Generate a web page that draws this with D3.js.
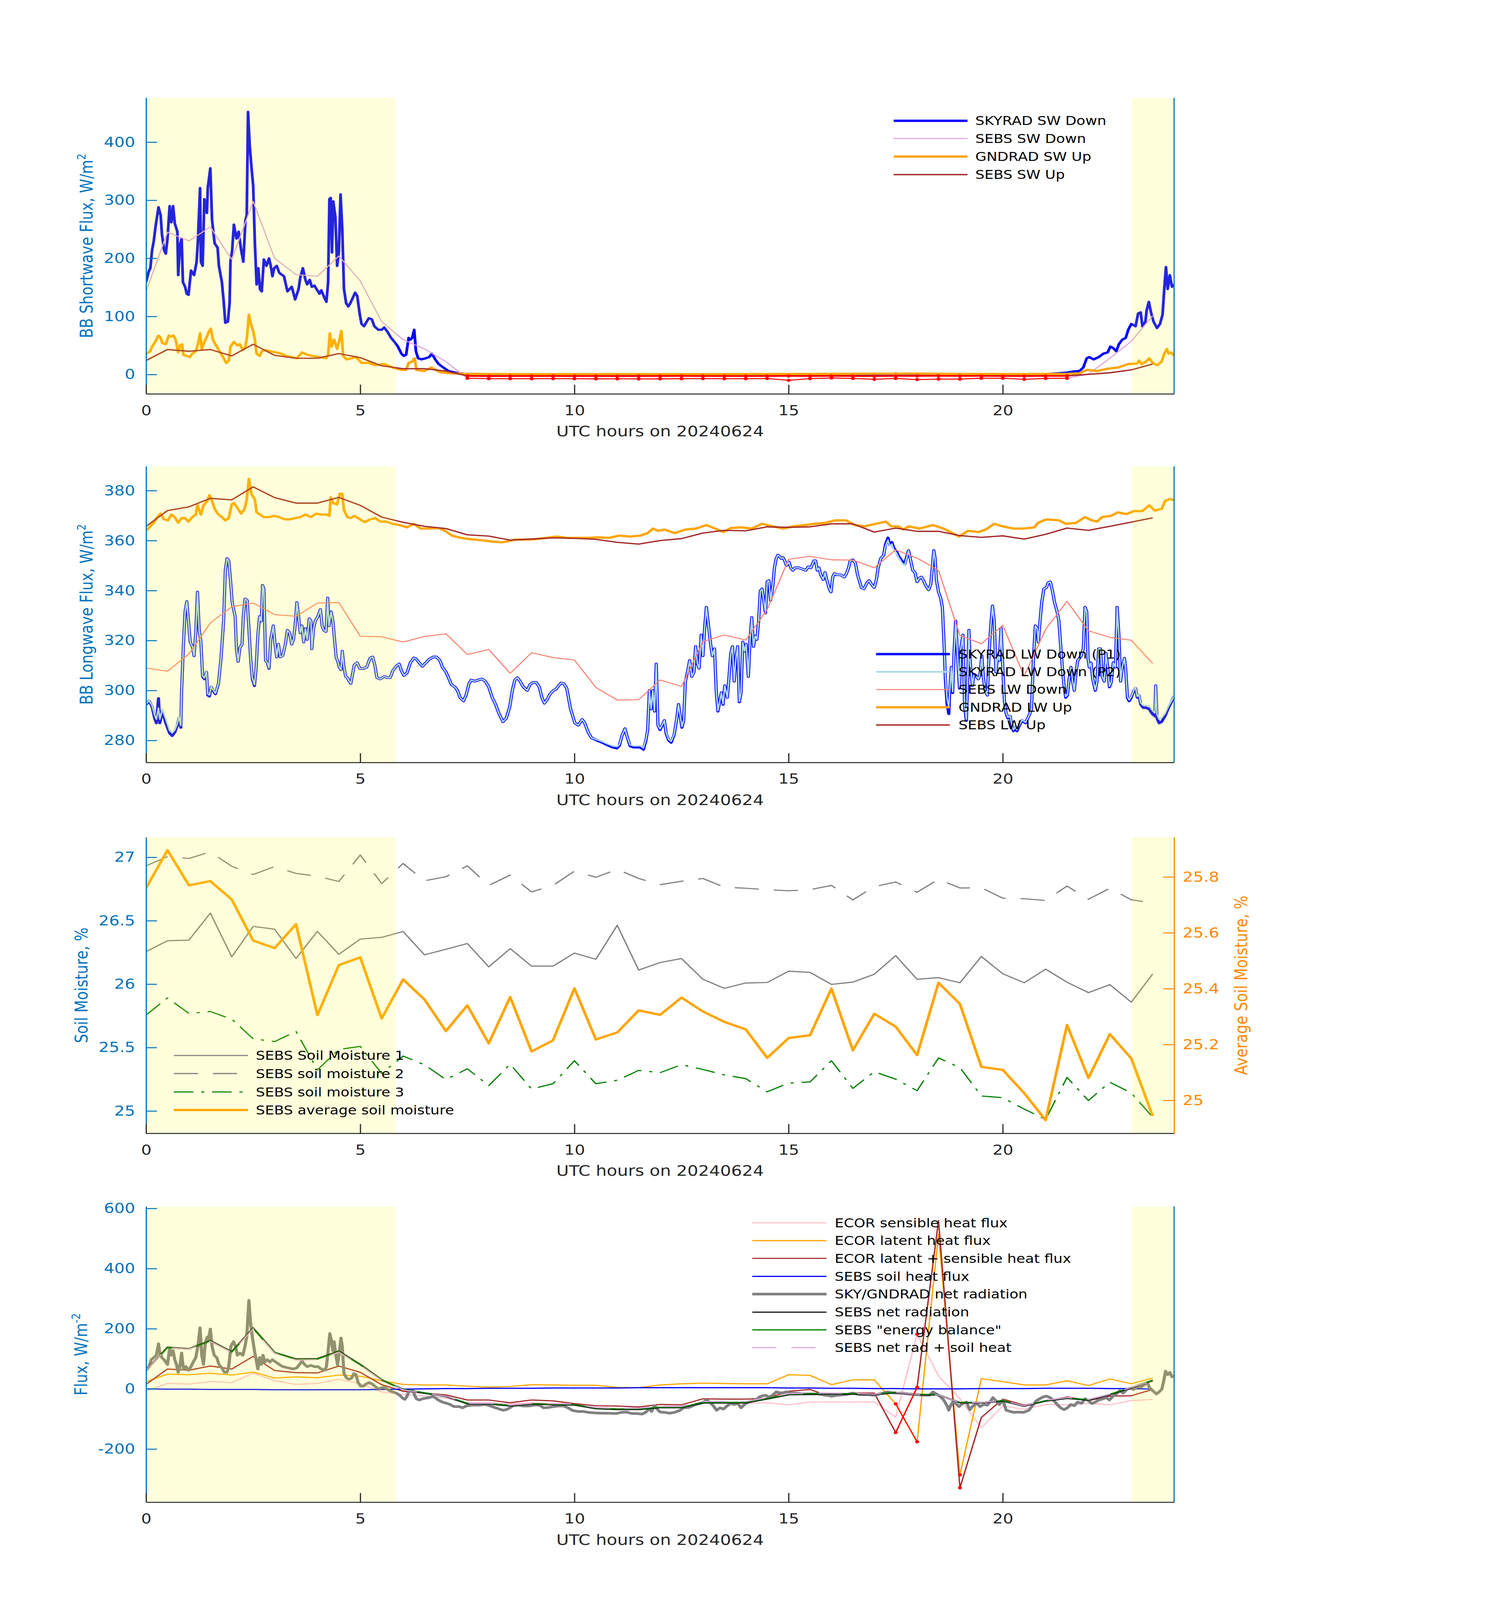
<!DOCTYPE html>
<html>
<head>
<meta charset="utf-8">
<script src="https://cdn.jsdelivr.net/npm/d3@7"></script>
<style>
  html, body { margin: 0; padding: 0; background: #fff; overflow: hidden; }
  svg { display: block; }
</style>
</head>
<body>
<svg id="chart"></svg>
<script>
// ---- data ----
const sebsHours = [0,0.5,1,1.5,2,2.5,3,3.5,4,4.5,5,5.5,6,6.5,7,7.5,8,8.5,9,9.5,10,10.5,11,11.5,
  12,12.5,13,13.5,14,14.5,15,15.5,16,16.5,17,17.5,18,18.5,19,19.5,20,20.5,21,21.5,22,22.5,23,23.5];
const xTicks = [0, 5, 10, 15, 20];
const dayShade = [[0, 5.83], [23.02, 24]];

// panel 1 - shortwave
const skyradSwDown = [[0,159],[0.06,177],[0.1,183],[0.14,214],[0.18,230],[0.22,254],[0.29,288],[0.34,274],[0.37,242],[0.42,214],[0.46,208],[0.5,234],[0.55,290],[0.59,262],[0.63,290],[0.67,260],[0.73,246],[0.75,171],[0.79,222],[0.83,234],[0.86,159],[0.91,151],[0.95,139],[0.99,137],[1.05,179],[1.12,171],[1.18,194],[1.21,230],[1.26,321],[1.28,194],[1.32,187],[1.36,302],[1.42,278],[1.44,321],[1.5,355],[1.54,266],[1.6,226],[1.67,218],[1.7,187],[1.77,159],[1.81,127],[1.85,89],[1.91,91],[1.95,123],[1.97,194],[2.01,214],[2.05,258],[2.11,234],[2.16,246],[2.22,214],[2.27,194],[2.32,266],[2.35,274],[2.38,452],[2.42,393],[2.46,357],[2.5,325],[2.54,226],[2.58,155],[2.62,183],[2.66,147],[2.7,143],[2.75,198],[2.81,187],[2.87,200],[2.91,187],[2.95,169],[2.99,183],[3.05,187],[3.11,175],[3.22,169],[3.3,143],[3.4,151],[3.48,129],[3.56,147],[3.6,167],[3.66,183],[3.72,163],[3.76,155],[3.82,163],[3.87,151],[3.93,153],[3.98,147],[4.05,139],[4.09,145],[4.17,131],[4.21,125],[4.25,159],[4.28,302],[4.31,304],[4.34,210],[4.37,298],[4.42,270],[4.46,187],[4.5,210],[4.54,310],[4.58,250],[4.62,147],[4.67,123],[4.72,117],[4.77,123],[4.82,131],[4.88,141],[4.93,135],[4.99,103],[5.03,87],[5.09,83],[5.15,91],[5.2,97],[5.27,95],[5.33,83],[5.42,77],[5.5,77],[5.56,81],[5.64,73],[5.72,63],[5.8,56],[5.88,48],[5.96,36],[6.02,32],[6.07,34],[6.13,63],[6.17,60],[6.21,63],[6.26,77],[6.3,40],[6.35,28],[6.43,26],[6.53,28],[6.61,30],[6.67,36],[6.75,26],[6.83,18],[6.94,12],[7.06,6],[7.23,3],[7.43,1],[8,0.4],[10,0.3],[12,0.4],[14,0.5],[16,0.3],[17.4,0.3],[17.5,1.8],[17.6,0.3],[19,0.4],[21,0.6],[21.47,3],[21.63,5],[21.79,6],[21.88,12],[21.96,28],[22.02,30],[22.12,26],[22.24,30],[22.35,36],[22.45,38],[22.51,48],[22.57,46],[22.65,40],[22.71,52],[22.79,60],[22.87,63],[22.93,77],[23.0,87],[23.1,83],[23.16,105],[23.22,107],[23.26,83],[23.33,91],[23.36,111],[23.41,125],[23.46,107],[23.52,91],[23.6,80],[23.67,87],[23.73,103],[23.77,147],[23.81,185],[23.85,147],[23.9,171],[23.95,151],[24,155]];
const sebsSwDown = [143,245,230,254,198,298,200,172,169,204,161,91,60,44,22,-6.5,-7.1,-7.3,-7.2,-7.1,-7.3,-7.5,-7.4,-7.6,
  -7.5,-7.2,-7.1,-7.2,-7.2,-6.9,-10,-7.1,-6.0,-6.8,-8.3,-6.8,-8.7,-7.9,-7.9,-6.4,-6.4,-8.3,-6.8,-6.4,0.5,28,57,101];
const gndradSwUp = [[0,36],[0.1,40],[0.14,48],[0.18,52],[0.24,60],[0.29,67],[0.34,63],[0.38,54],[0.46,52],[0.53,67],[0.59,65],[0.64,67],[0.69,60],[0.75,38],[0.79,50],[0.84,52],[0.87,34],[0.95,32],[1.02,30],[1.08,36],[1.16,40],[1.21,52],[1.26,71],[1.3,44],[1.36,56],[1.43,67],[1.46,73],[1.51,79],[1.56,60],[1.65,48],[1.73,38],[1.81,28],[1.87,20],[1.93,24],[1.97,48],[2.05,56],[2.13,50],[2.19,52],[2.26,42],[2.32,48],[2.36,67],[2.4,103],[2.46,83],[2.5,75],[2.54,60],[2.58,36],[2.65,32],[2.7,40],[2.79,42],[2.91,40],[3.03,38],[3.15,36],[3.27,32],[3.4,30],[3.52,28],[3.64,38],[3.76,34],[3.89,32],[4.05,30],[4.2,28],[4.25,34],[4.29,71],[4.33,48],[4.39,60],[4.46,44],[4.51,58],[4.56,75],[4.6,32],[4.68,26],[4.8,28],[4.9,30],[5.03,20],[5.19,20],[5.35,16],[5.56,18],[5.76,12],[5.96,8],[6.07,8],[6.13,20],[6.21,22],[6.27,28],[6.31,8],[6.49,6],[6.66,12],[6.86,4],[7.14,2],[7.47,1],[9,0.6],[11,0.7],[13,0.6],[15,0.8],[16.5,1.2],[18,1.5],[19,0.9],[20.5,0.7],[21.5,1.2],[21.79,2],[21.97,8],[22.2,6],[22.45,10],[22.69,12],[22.93,18],[23.14,19],[23.18,24],[23.24,18],[23.34,22],[23.42,28],[23.5,20],[23.6,16],[23.71,22],[23.77,36],[23.83,44],[23.87,36],[23.93,38],[24,32]];
const sebsSwUp = [24,43,40,43,32,52,33,28,28,36,29,15,10,10,6,-2.4,-2.8,-2.7,-2.6,-2.6,-2.7,-2.6,-2.8,-2.7,
  -2.6,-2.5,-2.6,-2.6,-2.7,-2.6,-2.5,-2.6,-2.5,-2.6,-2.7,-2.5,-2.4,-2.3,-2.4,-2.5,-2.6,-2.6,-2.5,-2.4,0.3,3,8,18];

// panel 2 - longwave
const skyradLwDownP1 = [[0,294.4],[0.07,295.8],[0.14,293.5],[0.2,288.9],[0.24,287.0],[0.29,296.8],[0.32,287.0],[0.38,291.7],[0.46,287.0],[0.55,282.9],[0.61,281.9],[0.67,283.3],[0.73,286.1],[0.77,288.9],[0.81,285.2],[0.83,300.0],[0.87,317.6],[0.91,331.5],[0.95,335.6],[0.99,327.8],[1.03,319.4],[1.08,317.6],[1.12,313.9],[1.16,323.1],[1.2,339.4],[1.24,324.1],[1.28,319.4],[1.32,305.6],[1.36,304.6],[1.41,307.4],[1.44,298.1],[1.48,297.7],[1.52,301.4],[1.56,300.0],[1.62,298.6],[1.69,302.8],[1.75,313.0],[1.81,327.8],[1.85,348.1],[1.89,352.8],[1.93,351.9],[1.97,344.4],[2.01,335.2],[2.08,329.6],[2.11,316.7],[2.15,311.6],[2.19,317.1],[2.24,318.5],[2.27,329.6],[2.31,336.6],[2.36,336.1],[2.4,325.0],[2.44,313.0],[2.48,304.6],[2.53,301.9],[2.57,309.3],[2.61,322.2],[2.65,329.6],[2.69,327.8],[2.72,342.1],[2.75,340.7],[2.79,312.0],[2.83,311.1],[2.87,308.8],[2.91,320.4],[2.97,325.9],[3.01,318.5],[3.05,313.4],[3.09,318.5],[3.13,313.4],[3.19,313.9],[3.25,318.5],[3.3,324.1],[3.35,323.1],[3.4,318.5],[3.44,320.4],[3.48,325.9],[3.52,335.2],[3.56,329.6],[3.6,323.1],[3.64,325.9],[3.68,319.4],[3.72,324.8],[3.76,320.4],[3.81,328.7],[3.85,327.8],[3.87,316.7],[3.91,324.8],[3.95,327.8],[4.01,329.6],[4.07,332.4],[4.11,325.9],[4.15,324.1],[4.2,323.6],[4.24,337.0],[4.27,325.9],[4.32,331.5],[4.36,327.8],[4.4,320.4],[4.44,313.0],[4.47,312.0],[4.51,309.3],[4.55,308.3],[4.58,315.7],[4.62,309.3],[4.66,305.6],[4.7,305.1],[4.74,303.7],[4.78,302.8],[4.82,306.5],[4.86,310.2],[4.93,311.1],[4.99,308.8],[5.07,308.8],[5.15,309.3],[5.23,313.0],[5.29,313.4],[5.34,310.2],[5.39,305.1],[5.47,304.6],[5.56,305.6],[5.64,305.1],[5.7,305.1],[5.76,307.9],[5.84,309.7],[5.91,310.6],[5.96,307.9],[6.02,306.0],[6.09,307.0],[6.17,311.1],[6.25,313.0],[6.31,312.5],[6.4,310.6],[6.45,309.7],[6.53,311.1],[6.61,312.5],[6.7,313.4],[6.78,313.4],[6.86,312.0],[6.92,309.3],[7.0,307.4],[7.06,305.1],[7.13,302.3],[7.21,301.4],[7.27,300.0],[7.33,297.2],[7.41,295.8],[7.47,298.1],[7.54,302.8],[7.59,304.2],[7.67,303.7],[7.76,304.2],[7.84,304.6],[7.92,303.7],[8.0,301.4],[8.08,297.2],[8.16,294.4],[8.24,290.7],[8.33,287.5],[8.41,288.9],[8.49,293.5],[8.55,300.0],[8.61,304.2],[8.67,305.1],[8.73,303.7],[8.81,301.4],[8.9,300.0],[8.96,302.3],[9.03,303.2],[9.11,303.2],[9.18,301.4],[9.24,297.2],[9.3,294.9],[9.36,296.3],[9.43,298.6],[9.51,300.0],[9.57,300.5],[9.63,301.9],[9.69,303.0],[9.75,302.8],[9.82,300.9],[9.87,296.3],[9.91,292.6],[9.96,289.8],[10.01,287.0],[10.09,286.1],[10.18,288.4],[10.24,287.0],[10.32,283.3],[10.4,281.0],[10.52,280.1],[10.65,279.2],[10.77,278.2],[10.89,277.3],[10.99,276.9],[11.05,278.0],[11.11,281.9],[11.18,284.7],[11.23,281.5],[11.3,277.8],[11.38,277.3],[11.46,277.3],[11.54,277.3],[11.61,276.4],[11.67,280.1],[11.71,284.3],[11.75,300.0],[11.79,292.6],[11.83,300.0],[11.87,291.7],[11.91,310.6],[11.95,286.1],[12.0,284.3],[12.1,288.0],[12.14,282.9],[12.2,280.1],[12.26,279.2],[12.33,282.4],[12.39,288.9],[12.43,294.4],[12.47,289.8],[12.51,285.2],[12.55,288.0],[12.59,303.7],[12.64,307.4],[12.69,312.0],[12.74,305.6],[12.79,307.4],[12.83,317.6],[12.87,310.7],[12.91,308.9],[12.96,322.2],[13.0,313.9],[13.04,325.0],[13.08,333.3],[13.13,325.9],[13.18,318.5],[13.22,313.9],[13.27,316.7],[13.31,300.0],[13.35,291.7],[13.39,295.4],[13.43,299.1],[13.47,294.4],[13.51,301.9],[13.57,297.2],[13.61,305.6],[13.65,314.8],[13.69,317.6],[13.73,303.7],[13.77,312.9],[13.81,317.6],[13.85,295.4],[13.89,299.1],[13.93,319.4],[13.97,315.7],[14.01,318.5],[14.06,305.6],[14.1,320.4],[14.14,329.2],[14.18,317.6],[14.22,321.8],[14.26,320.4],[14.3,327.8],[14.34,339.8],[14.38,340.7],[14.42,336.1],[14.46,331.0],[14.5,343.5],[14.54,344.0],[14.58,336.1],[14.63,341.7],[14.67,349.1],[14.71,352.8],[14.75,354.2],[14.79,353.7],[14.83,352.8],[14.87,353.2],[14.91,351.9],[14.95,350.0],[15.01,351.4],[15.05,349.1],[15.1,348.1],[15.15,349.1],[15.24,349.1],[15.32,348.6],[15.4,348.1],[15.46,349.5],[15.52,349.1],[15.59,351.9],[15.63,351.9],[15.67,348.1],[15.71,349.1],[15.75,346.3],[15.81,344.4],[15.85,347.2],[15.89,344.4],[15.95,340.7],[15.99,339.4],[16.03,345.4],[16.07,346.8],[16.13,346.3],[16.21,346.3],[16.3,345.4],[16.35,346.8],[16.4,349.1],[16.44,351.9],[16.5,352.3],[16.56,350.9],[16.61,346.3],[16.65,344.0],[16.7,341.2],[16.76,340.7],[16.83,343.1],[16.88,344.0],[16.95,342.1],[17.0,341.2],[17.05,344.4],[17.09,349.1],[17.15,352.8],[17.22,354.2],[17.26,358.3],[17.29,359.7],[17.32,361.1],[17.36,358.3],[17.41,359.3],[17.46,356.9],[17.52,355.6],[17.57,353.7],[17.64,351.9],[17.71,350.5],[17.76,353.7],[17.8,356.0],[17.84,352.8],[17.9,348.1],[17.95,347.2],[18.0,343.5],[18.05,344.9],[18.1,345.4],[18.15,344.0],[18.21,341.7],[18.27,340.3],[18.32,342.6],[18.36,350.0],[18.39,356.0],[18.42,352.8],[18.45,344.4],[18.5,339.4],[18.55,337.0],[18.59,333.3],[18.63,318.5],[18.66,304.6],[18.7,294.5],[18.74,290.7],[18.76,299.1],[18.8,309.3],[18.83,299.1],[18.86,313.9],[18.9,327.8],[18.93,318.5],[18.96,309.3],[18.99,300.9],[19.02,316.7],[19.07,322.2],[19.11,293.5],[19.15,288.0],[19.19,309.3],[19.21,324.1],[19.24,311.1],[19.29,301.9],[19.33,306.5],[19.37,306.0],[19.43,304.6],[19.47,306.5],[19.51,313.9],[19.55,304.6],[19.59,300.0],[19.64,298.1],[19.68,314.8],[19.72,325.9],[19.76,333.8],[19.8,327.8],[19.84,307.4],[19.88,313.9],[19.92,312.0],[19.96,324.9],[20.0,309.3],[20.04,295.4],[20.08,290.7],[20.12,288.9],[20.17,289.8],[20.21,286.1],[20.25,283.8],[20.29,285.2],[20.33,283.8],[20.39,286.1],[20.45,288.0],[20.53,287.0],[20.61,289.8],[20.67,292.6],[20.72,313.9],[20.76,325.9],[20.8,325.0],[20.83,319.4],[20.87,327.8],[20.91,335.2],[20.96,340.7],[21.02,341.2],[21.06,343.1],[21.11,343.5],[21.16,339.8],[21.21,335.2],[21.27,331.5],[21.31,327.8],[21.35,318.5],[21.39,309.3],[21.43,301.9],[21.47,297.2],[21.51,298.1],[21.55,304.6],[21.59,309.3],[21.63,303.7],[21.67,300.0],[21.71,307.4],[21.75,312.0],[21.79,312.9],[21.83,313.9],[21.88,316.7],[21.92,333.3],[21.96,331.5],[21.99,312.9],[22.02,309.3],[22.06,311.1],[22.1,304.6],[22.16,300.0],[22.2,303.7],[22.24,316.7],[22.28,316.7],[22.32,305.6],[22.37,303.7],[22.41,314.8],[22.45,309.3],[22.49,301.4],[22.53,303.2],[22.58,311.1],[22.63,309.3],[22.67,333.3],[22.71,322.2],[22.75,303.7],[22.79,309.3],[22.84,312.9],[22.87,308.3],[22.91,297.2],[22.95,295.8],[23.0,297.2],[23.06,300.0],[23.1,300.9],[23.14,297.2],[23.18,298.1],[23.22,294.4],[23.28,293.1],[23.34,293.1],[23.42,292.6],[23.49,290.7],[23.55,289.8],[23.57,301.9],[23.6,288.9],[23.65,287.0],[23.71,287.5],[23.79,289.8],[23.87,293.1],[23.95,295.8],[24,297.7]];
const skyradLwDownP2 = [[0,294.6],[0.07,296.0],[0.14,294.0],[0.2,290.2],[0.24,288.5],[0.29,293.0],[0.32,288.5],[0.38,292.5],[0.46,288.5],[0.55,284.0],[0.61,283.0],[0.67,284.2],[0.73,286.8],[0.77,289.5],[0.81,286.0],[0.83,300.0],[0.87,317.6],[0.91,331.5],[0.95,335.6],[0.99,327.8],[1.03,319.4],[1.08,317.6],[1.12,313.9],[1.16,323.1],[1.2,339.4],[1.24,324.1],[1.28,319.4],[1.32,305.9],[1.36,305.0],[1.41,307.6],[1.44,298.6],[1.48,298.2],[1.52,301.6],[1.56,300.3],[1.62,298.9],[1.69,302.8],[1.75,313.0],[1.81,327.8],[1.85,348.1],[1.89,352.8],[1.93,351.9],[1.97,344.4],[2.01,335.2],[2.08,329.6],[2.11,316.7],[2.15,311.6],[2.19,317.1],[2.24,318.5],[2.27,329.6],[2.31,336.6],[2.36,336.1],[2.4,325.0],[2.44,313.0],[2.48,305.0],[2.53,302.3],[2.57,309.3],[2.61,322.2],[2.65,329.6],[2.69,327.8],[2.72,342.1],[2.75,340.7],[2.79,312.0],[2.83,311.1],[2.87,309.0],[2.91,320.4],[2.97,325.9],[3.01,318.5],[3.05,313.4],[3.09,318.5],[3.13,313.4],[3.19,313.9],[3.25,318.5],[3.3,324.1],[3.35,323.1],[3.4,318.5],[3.44,320.4],[3.48,325.9],[3.52,335.2],[3.56,329.6],[3.6,323.1],[3.64,325.9],[3.68,319.4],[3.72,324.8],[3.76,320.4],[3.81,328.7],[3.85,327.8],[3.87,316.7],[3.91,324.8],[3.95,327.8],[4.01,329.6],[4.07,332.4],[4.11,325.9],[4.15,324.1],[4.2,323.6],[4.24,337.0],[4.27,325.9],[4.32,331.5],[4.36,327.8],[4.4,320.4],[4.44,313.0],[4.47,312.0],[4.51,309.3],[4.55,308.3],[4.58,315.7],[4.62,309.3],[4.66,305.6],[4.7,305.1],[4.74,303.7],[4.78,302.8],[4.82,306.5],[4.86,310.2],[4.93,311.1],[4.99,308.8],[5.07,308.8],[5.15,309.3],[5.23,313.0],[5.29,313.4],[5.34,310.2],[5.39,305.1],[5.47,304.6],[5.56,305.6],[5.64,305.1],[5.7,305.1],[5.76,307.9],[5.84,309.7],[5.91,310.6],[5.96,307.9],[6.02,306.0],[6.09,307.0],[6.17,311.1],[6.25,313.0],[6.31,312.5],[6.4,310.6],[6.45,309.7],[6.53,311.1],[6.61,312.5],[6.7,313.4],[6.78,313.4],[6.86,312.0],[6.92,309.3],[7.0,307.4],[7.06,305.1],[7.13,302.3],[7.21,301.4],[7.27,300.0],[7.33,297.2],[7.41,295.8],[7.47,298.1],[7.54,302.8],[7.59,304.2],[7.67,303.7],[7.76,304.2],[7.84,304.6],[7.92,303.7],[8.0,301.4],[8.08,297.2],[8.16,294.4],[8.24,290.7],[8.33,287.5],[8.41,288.9],[8.49,293.5],[8.55,300.0],[8.61,304.2],[8.67,305.1],[8.73,303.7],[8.81,301.4],[8.9,300.0],[8.96,302.3],[9.03,303.2],[9.11,303.2],[9.18,301.4],[9.24,297.2],[9.3,294.9],[9.36,296.3],[9.43,298.6],[9.51,300.0],[9.57,300.5],[9.63,301.9],[9.69,303.0],[9.75,302.8],[9.82,300.9],[9.87,296.3],[9.91,292.6],[9.96,289.8],[10.01,287.0],[10.09,286.1],[10.18,288.4],[10.24,287.0],[10.32,283.3],[10.4,281.0],[10.52,280.3],[10.65,279.5],[10.77,278.6],[10.89,277.8],[10.99,277.5],[11.05,278.3],[11.11,281.9],[11.18,284.7],[11.23,281.5],[11.3,278.2],[11.38,277.8],[11.46,277.8],[11.54,277.8],[11.61,277.0],[11.67,280.4],[11.71,284.3],[11.75,300.0],[11.79,292.6],[11.83,300.0],[11.87,291.7],[11.91,310.6],[11.95,286.1],[12.0,284.6],[12.1,288.0],[12.14,283.2],[12.2,280.4],[12.26,279.6],[12.33,282.6],[12.39,288.9],[12.43,294.4],[12.47,289.8],[12.51,285.5],[12.55,288.0],[12.59,303.7],[12.64,307.4],[12.69,312.0],[12.74,305.6],[12.79,307.4],[12.83,317.6],[12.87,310.7],[12.91,308.9],[12.96,322.2],[13.0,313.9],[13.04,325.0],[13.08,333.3],[13.13,325.9],[13.18,318.5],[13.22,313.9],[13.27,316.7],[13.31,300.0],[13.35,291.9],[13.39,295.4],[13.43,299.1],[13.47,294.6],[13.51,301.9],[13.57,297.2],[13.61,305.6],[13.65,314.8],[13.69,317.6],[13.73,303.7],[13.77,312.9],[13.81,317.6],[13.85,295.6],[13.89,299.1],[13.93,319.4],[13.97,315.7],[14.01,318.5],[14.06,305.6],[14.1,320.4],[14.14,329.2],[14.18,317.6],[14.22,321.8],[14.26,320.4],[14.3,327.8],[14.34,339.8],[14.38,340.7],[14.42,336.1],[14.46,331.0],[14.5,343.5],[14.54,344.0],[14.58,336.1],[14.63,341.7],[14.67,349.1],[14.71,352.8],[14.75,354.2],[14.79,353.7],[14.83,352.8],[14.87,353.2],[14.91,351.9],[14.95,350.0],[15.01,351.4],[15.05,349.1],[15.1,348.1],[15.15,349.1],[15.24,349.1],[15.32,348.6],[15.4,348.1],[15.46,349.5],[15.52,349.1],[15.59,351.9],[15.63,351.9],[15.67,348.1],[15.71,349.1],[15.75,346.3],[15.81,344.4],[15.85,347.2],[15.89,344.4],[15.95,340.7],[15.99,339.4],[16.03,345.4],[16.07,346.8],[16.13,346.3],[16.21,346.3],[16.3,345.4],[16.35,346.8],[16.4,349.1],[16.44,351.9],[16.5,352.3],[16.56,350.9],[16.61,346.3],[16.65,344.0],[16.7,341.2],[16.76,340.7],[16.83,343.1],[16.88,344.0],[16.95,342.1],[17.0,341.2],[17.05,344.4],[17.09,349.1],[17.15,352.8],[17.22,354.2],[17.26,357.8],[17.29,359.0],[17.32,360.2],[17.36,357.8],[17.41,358.6],[17.46,356.2],[17.52,355.0],[17.57,353.2],[17.64,351.2],[17.71,350.0],[17.76,353.4],[17.8,356.0],[17.84,352.8],[17.9,348.1],[17.95,347.2],[18.0,343.5],[18.05,344.9],[18.1,345.4],[18.15,344.0],[18.21,341.7],[18.27,340.3],[18.32,342.6],[18.36,350.0],[18.39,356.0],[18.42,352.8],[18.45,344.4],[18.5,339.4],[18.55,337.0],[18.59,333.3],[18.63,318.5],[18.66,305.5],[18.7,296.5],[18.74,293.5],[18.76,299.5],[18.8,309.3],[18.83,299.5],[18.86,313.9],[18.9,327.8],[18.93,318.5],[18.96,309.3],[18.99,301.2],[19.02,316.7],[19.07,322.2],[19.11,293.8],[19.15,288.5],[19.19,309.3],[19.21,324.1],[19.24,311.1],[19.29,301.9],[19.33,306.5],[19.37,306.0],[19.43,304.6],[19.47,306.5],[19.51,313.9],[19.55,304.6],[19.59,300.0],[19.64,298.1],[19.68,314.8],[19.72,325.9],[19.76,333.8],[19.8,327.8],[19.84,307.4],[19.88,313.9],[19.92,312.0],[19.96,324.9],[20.0,309.3],[20.04,295.4],[20.08,290.9],[20.12,289.2],[20.17,290.0],[20.21,286.5],[20.25,284.2],[20.29,285.5],[20.33,284.2],[20.39,286.3],[20.45,288.2],[20.53,287.2],[20.61,289.8],[20.67,292.6],[20.72,313.9],[20.76,325.9],[20.8,325.0],[20.83,319.4],[20.87,327.8],[20.91,335.2],[20.96,340.7],[21.02,341.2],[21.06,343.1],[21.11,343.5],[21.16,339.8],[21.21,335.2],[21.27,331.5],[21.31,327.8],[21.35,318.5],[21.39,309.3],[21.43,301.9],[21.47,297.5],[21.51,298.3],[21.55,304.6],[21.59,309.3],[21.63,303.7],[21.67,300.0],[21.71,307.4],[21.75,312.0],[21.79,312.9],[21.83,313.9],[21.88,316.7],[21.92,333.3],[21.96,331.5],[21.99,312.9],[22.02,309.3],[22.06,311.1],[22.1,304.6],[22.16,300.2],[22.2,303.7],[22.24,316.7],[22.28,316.7],[22.32,305.6],[22.37,303.7],[22.41,314.8],[22.45,309.3],[22.49,301.6],[22.53,303.2],[22.58,311.1],[22.63,309.3],[22.67,333.3],[22.71,322.2],[22.75,303.7],[22.79,309.3],[22.84,312.9],[22.87,308.3],[22.91,297.5],[22.95,296.2],[23.0,297.6],[23.06,300.3],[23.1,301.2],[23.14,297.6],[23.18,298.5],[23.22,295.0],[23.28,294.0],[23.34,294.0],[23.42,293.8],[23.49,292.0],[23.55,291.0],[23.57,301.9],[23.6,290.5],[23.65,288.5],[23.71,289.0],[23.79,290.8],[23.87,293.8],[23.95,296.2],[24,298.0]];
const sebsLwDown = [309.0,307.7,314.6,327.0,333.5,335.0,330.4,329.7,335.0,335.2,321.7,321.5,319.4,321.6,322.7,314.4,316.4,306.9,315.1,313.2,312.2,301.2,296.2,296.3,
  304.2,301.6,319.6,322.2,320.2,332.4,352.5,353.7,352.3,352.2,349.1,356.3,353.0,348.1,322.0,318.7,326.1,305.7,324.5,335.7,323.9,321.3,320.1,310.8];
const gndradLwUp = [[0,363.9],[0.1,365.7],[0.18,367.1],[0.26,369.4],[0.34,370.8],[0.42,368.5],[0.51,368.1],[0.59,370.4],[0.67,369.4],[0.75,367.1],[0.83,369.0],[0.91,369.0],[0.99,367.6],[1.08,369.4],[1.16,370.4],[1.2,374.1],[1.28,370.4],[1.34,374.1],[1.43,375.9],[1.48,378.2],[1.54,375.9],[1.6,372.7],[1.69,370.4],[1.77,369.4],[1.85,368.1],[1.93,369.0],[2.0,374.5],[2.05,375.0],[2.13,373.1],[2.22,370.8],[2.3,372.7],[2.35,376.4],[2.4,384.7],[2.46,378.7],[2.54,376.4],[2.58,371.3],[2.66,370.4],[2.75,369.4],[2.87,369.4],[2.99,369.9],[3.11,369.4],[3.23,368.5],[3.36,368.5],[3.48,369.0],[3.6,369.4],[3.72,370.4],[3.85,369.4],[3.97,370.8],[4.09,370.4],[4.21,370.4],[4.28,369.9],[4.31,377.3],[4.37,375.0],[4.46,374.5],[4.52,378.7],[4.58,378.7],[4.62,372.2],[4.7,369.4],[4.78,369.0],[4.86,369.9],[4.95,369.0],[5.03,368.1],[5.11,367.4],[5.23,368.5],[5.35,369.0],[5.47,367.6],[5.6,367.6],[5.76,366.7],[5.92,366.2],[6.09,365.3],[6.25,366.7],[6.41,364.8],[6.62,364.8],[6.82,365.0],[6.98,363.9],[7.14,362.0],[7.35,361.1],[7.55,360.6],[7.8,360.2],[8.04,359.7],[8.29,359.3],[8.45,359.7],[8.61,360.4],[8.86,360.4],[9.1,360.6],[9.34,361.1],[9.59,361.6],[9.83,361.1],[10.08,361.1],[10.32,361.1],[10.57,361.3],[10.81,361.1],[11.05,362.0],[11.3,361.6],[11.54,362.0],[11.71,363.0],[11.83,364.8],[11.95,363.9],[12.1,364.4],[12.34,363.0],[12.59,364.4],[12.83,364.8],[13.08,366.2],[13.28,364.8],[13.48,363.4],[13.65,365.0],[13.89,365.3],[14.14,364.8],[14.38,366.7],[14.63,365.7],[14.87,364.8],[15.11,365.7],[15.36,366.2],[15.6,366.7],[15.85,367.1],[16.09,368.1],[16.34,368.1],[16.54,366.2],[16.78,365.7],[17.03,366.7],[17.27,367.6],[17.4,365.7],[17.56,365.7],[17.68,364.4],[17.8,365.7],[18.05,364.8],[18.37,366.2],[18.62,364.8],[18.78,363.4],[18.98,361.6],[19.19,363.9],[19.43,363.4],[19.6,364.4],[19.8,366.7],[20.0,365.7],[20.25,364.8],[20.49,364.8],[20.74,365.3],[20.82,367.1],[21.02,368.5],[21.31,368.1],[21.47,366.7],[21.71,367.1],[21.92,369.4],[22.08,368.1],[22.2,367.6],[22.32,369.4],[22.53,369.9],[22.69,371.3],[22.89,370.6],[23.06,371.8],[23.26,371.8],[23.42,374.1],[23.55,372.0],[23.71,372.7],[23.79,375.9],[23.91,376.7],[24,376.1]];
const sebsLwUp = [365.7,372.0,373.5,376.9,376.3,381.5,377.2,375.0,375.0,377.3,374.1,369.4,367.3,365.7,364.8,362.3,361.8,360.2,360.6,361.1,360.9,360.5,359.3,358.6,
  360.0,360.8,363.0,364.1,363.9,365.5,365.3,365.5,366.7,366.7,363.4,365.0,363.7,363.7,362.0,361.3,361.9,360.6,362.5,365.0,364.1,365.7,367.4,369.1];

// panel 3 - soil moisture
const soilMoisture1 = [26.256,26.342,26.347,26.56,26.215,26.455,26.433,26.202,26.416,26.235,26.355,26.369,26.415,26.231,26.275,26.32,26.136,26.28,26.142,26.142,26.245,26.196,26.464,26.111,
  26.17,26.202,26.038,25.967,26.009,26.013,26.102,26.093,25.998,26.016,26.078,26.225,26.038,26.051,26.011,26.218,26.082,26.011,26.118,26.015,25.933,25.996,25.858,26.08];
const soilMoisture2 = [26.933,27.005,26.991,27.042,26.929,26.864,26.927,26.873,26.851,26.809,27.018,26.793,26.951,26.815,26.847,26.933,26.778,26.86,26.727,26.778,26.891,26.842,26.905,26.833,
  26.784,26.811,26.833,26.764,26.756,26.745,26.736,26.745,26.778,26.664,26.769,26.805,26.724,26.827,26.758,26.76,26.678,26.673,26.66,26.773,26.669,26.756,26.665,26.64];
const soilMoisture3 = [25.756,25.891,25.769,25.784,25.724,25.569,25.547,25.627,25.324,25.485,25.509,25.296,25.433,25.364,25.247,25.333,25.2,25.369,25.173,25.215,25.396,25.215,25.242,25.32,
  25.302,25.365,25.327,25.284,25.255,25.151,25.22,25.229,25.396,25.178,25.309,25.251,25.16,25.418,25.342,25.118,25.105,25.015,24.933,25.265,25.082,25.227,25.142,24.951];
const soilMoistureAvg = [25.76,25.896,25.77,25.785,25.719,25.572,25.545,25.631,25.305,25.484,25.512,25.293,25.433,25.361,25.248,25.34,25.204,25.37,25.175,25.215,25.401,25.218,25.243,25.322,
  25.306,25.368,25.318,25.281,25.254,25.152,25.223,25.233,25.4,25.179,25.31,25.264,25.162,25.421,25.345,25.12,25.109,25.026,24.929,25.27,25.08,25.237,25.15,24.944];

// panel 4 - energy
const ecorSensible = [-8,18,16,24,21,52,27,15,18,32,17,-10,-19,-24,-31,-46,-46,-50,-46,-49,-54,-62,-65,-65,
  -60,-62,-49,-48,-48,-46,-53,-44,-43,-44,-43,-94,182,43,-33,-129,-57,-68,-52,-53,-48,-53,-39,-35];
const ecorLatent = [24,49,47,52,46,56,36,40,37,46,42,27,15,13,13,9,6,8,14,13,12,12,5,4,
  13,17,19,18,17,17,47,45,14,30,30,-50,-176,515,-286,34,24,13,13,27,11,33,17,36];
const ecorSum = [15,66,62,76,66,108,61,54,53,76,55,14,-8,-14,-20,-37,-37,-46,-37,-40,-49,-56,-57,-60,
  -52,-53,-33,-34,-34,-31,-8,-2,-27,-14,-14,-145,5,560,-329,-95,-34,-54,-40,-27,-39,-24,-23,-2];
const sebsSoilHeat = [0,-1,-1,-2,-2,-2,-3,-3,-3,-3,-3,-2,-1,0,1,1,2,2,2,3,3,3,3,4,
  4,4,4,4,4,4,3,3,2,2,1,1,0,0,0,1,1,1,2,2,2,1,1,-1];
const sebsNetRad = [62,138,133,160,123,202,121,99,100,125,81,30,-2,-14,-25,-49,-50,-56,-50,-52,-53,-65,-68,-68,
  -62,-62,-46,-46,-46,-33,-19,-17,-16,-17,-19,-12,-19,-20,-46,-46,-40,-57,-40,-31,-37,-19,4,28];
const sebsEnergyBal = [61,137,133,159,122,201,121,98,99,124,80,30,-1,-13,-24,-48,-49,-55,-49,-51,-52,-64,-67,-67,
  -61,-61,-45,-45,-45,-32,-18,-16,-15,-16,-18,-11,-18,-19,-45,-45,-39,-56,-39,-30,-36,-18,5,29];
const sebsNetRadSoil = [62,137,132,158,121,200,118,96,97,122,78,28,-3,-14,-24,-48,-48,-54,-48,-49,-50,-62,-65,-64,
  -58,-58,-42,-42,-42,-29,-16,-14,-14,-15,-18,-11,-19,-20,-46,-45,-39,-56,-38,-29,-35,-18,5,27];
const ecorSensFlag = [18];
const ecorLatFlag = [17.5, 18, 19];
const ecorSumFlag = [17.5, 18, 19];
const skyGndNetRad = [[0,62],[0.07,74],[0.12,97],[0.18,104],[0.24,112],[0.29,150],[0.32,119],[0.37,104],[0.42,97],[0.46,89],[0.5,81],[0.55,135],[0.59,112],[0.63,127],[0.67,97],[0.71,81],[0.75,55],[0.79,78],[0.83,119],[0.87,66],[0.93,74],[0.99,62],[1.05,74],[1.1,89],[1.16,104],[1.21,142],[1.26,203],[1.3,112],[1.34,81],[1.38,150],[1.43,173],[1.46,165],[1.5,199],[1.54,142],[1.59,112],[1.65,104],[1.7,81],[1.77,70],[1.83,55],[1.89,55],[1.93,74],[1.98,142],[2.04,157],[2.09,142],[2.13,112],[2.19,119],[2.26,112],[2.31,142],[2.35,173],[2.4,294],[2.44,218],[2.48,173],[2.53,127],[2.57,97],[2.61,66],[2.65,104],[2.69,81],[2.73,112],[2.77,89],[2.83,97],[2.89,89],[2.95,97],[3.03,89],[3.11,81],[3.19,74],[3.32,70],[3.44,66],[3.52,70],[3.58,81],[3.64,93],[3.7,81],[3.76,74],[3.85,78],[3.93,74],[4.01,74],[4.09,66],[4.17,62],[4.21,74],[4.25,127],[4.29,184],[4.32,165],[4.36,127],[4.39,157],[4.43,112],[4.47,81],[4.51,119],[4.55,169],[4.58,142],[4.62,51],[4.68,36],[4.74,32],[4.8,36],[4.85,51],[4.9,47],[4.95,21],[5.01,9],[5.08,9],[5.14,17],[5.21,21],[5.27,17],[5.34,9],[5.4,2],[5.47,2],[5.53,5],[5.6,2],[5.68,-6],[5.76,-10],[5.84,-14],[5.92,-21],[5.99,-31],[6.04,-35],[6.09,-25],[6.13,-10],[6.18,-6],[6.23,-6],[6.27,-21],[6.31,-33],[6.38,-37],[6.45,-33],[6.53,-31],[6.62,-29],[6.68,-25],[6.75,-29],[6.82,-37],[6.92,-44],[7.02,-48],[7.1,-52],[7.19,-59],[7.31,-59],[7.39,-63],[7.47,-57],[7.59,-54],[7.76,-54],[7.92,-52],[8.04,-57],[8.16,-63],[8.33,-71],[8.41,-69],[8.49,-63],[8.57,-56],[8.69,-54],[8.81,-57],[8.94,-57],[9.06,-54],[9.18,-54],[9.28,-63],[9.39,-62],[9.51,-59],[9.63,-57],[9.75,-57],[9.85,-63],[9.96,-72],[10.08,-75],[10.2,-75],[10.32,-78],[10.48,-80],[10.65,-81],[10.81,-81],[10.97,-82],[11.1,-78],[11.22,-77],[11.34,-82],[11.46,-82],[11.58,-84],[11.66,-78],[11.75,-67],[11.8,-75],[11.87,-56],[11.93,-67],[12.0,-77],[12.1,-78],[12.22,-81],[12.34,-78],[12.47,-71],[12.55,-63],[12.67,-62],[12.83,-52],[12.99,-46],[13.08,-37],[13.16,-44],[13.24,-56],[13.32,-71],[13.4,-63],[13.48,-67],[13.57,-56],[13.65,-48],[13.73,-52],[13.81,-48],[13.89,-63],[13.97,-52],[14.06,-44],[14.22,-37],[14.34,-25],[14.46,-21],[14.54,-27],[14.63,-21],[14.71,-10],[14.83,-14],[14.95,-10],[15.07,-14],[15.2,-14],[15.36,-17],[15.52,-17],[15.68,-17],[15.85,-21],[16.01,-24],[16.17,-21],[16.34,-19],[16.5,-14],[16.66,-19],[16.83,-19],[16.99,-21],[17.15,-16],[17.31,-10],[17.48,-14],[17.64,-14],[17.8,-17],[17.97,-19],[18.13,-21],[18.29,-21],[18.37,-10],[18.45,-17],[18.54,-25],[18.62,-37],[18.7,-56],[18.74,-71],[18.78,-56],[18.85,-40],[18.9,-48],[18.98,-59],[19.07,-48],[19.15,-44],[19.23,-69],[19.31,-56],[19.39,-48],[19.47,-59],[19.55,-52],[19.64,-54],[19.72,-40],[19.77,-29],[19.84,-40],[19.92,-52],[20.0,-37],[20.08,-71],[20.17,-75],[20.25,-78],[20.37,-77],[20.49,-78],[20.61,-71],[20.69,-56],[20.78,-40],[20.86,-33],[20.94,-27],[21.02,-24],[21.1,-29],[21.18,-37],[21.27,-52],[21.35,-63],[21.43,-69],[21.51,-63],[21.59,-52],[21.67,-56],[21.75,-44],[21.84,-48],[21.92,-33],[22.0,-39],[22.08,-49],[22.16,-44],[22.24,-37],[22.32,-34],[22.41,-29],[22.49,-37],[22.57,-25],[22.65,-17],[22.73,-6],[22.81,-14],[22.89,-2],[22.98,2],[23.06,-2],[23.14,9],[23.22,5],[23.3,13],[23.38,21],[23.42,5],[23.5,-6],[23.59,-17],[23.65,-10],[23.71,-2],[23.75,21],[23.8,59],[23.85,47],[23.9,55],[23.95,40],[24,43]];

// ---- drawing ----
// layout is done on a 3825x4875 canvas; the viewBox squeezes it into whatever
// height the window really gives us
const W = 3825, H = 4875;
const X0 = 374, X1 = 3006;
const FONT = "DejaVu Sans";
const BLUE_AX = "#0072BD", ORANGE_AX = "#FF8800", DARK = "#262626";

const viewH = Math.min(window.innerHeight || H, H);
const svg = d3.select("#chart")
  .attr("width", W).attr("height", viewH)
  .attr("viewBox", "0 0 " + W + " " + H)
  .attr("preserveAspectRatio", "none");
svg.append("rect").attr("width", W).attr("height", H).attr("fill", "#fff");

const x = d3.scaleLinear().domain([0, 24]).range([X0, X1]);

function half(vals) { return sebsHours.map((h, i) => [h, vals[i]]); }

function makePanel(id, top, bottom, dom) {
  const y = d3.scaleLinear().domain(dom).range([bottom, top]);
  svg.append("clipPath").attr("id", id).append("rect")
    .attr("x", X0).attr("y", top).attr("width", X1 - X0).attr("height", bottom - top);
  const g = svg.append("g");
  const plot = g.append("g").attr("clip-path", "url(#" + id + ")");
  return { g, plot, y, top, bottom };
}

function line(p, y, data, color, width, dash) {
  p.plot.append("path").datum(data)
    .attr("fill", "none").attr("stroke", color).attr("stroke-width", width)
    .attr("stroke-linejoin", "round").attr("stroke-dasharray", dash || null)
    .attr("d", d3.line().x(d => x(d[0])).y(d => y(d[1])));
}

// red highlight of flagged samples: segment between flagged neighbours + a dot
function flagged(p, y, data, isFlag, width) {
  p.plot.append("path").datum(data)
    .attr("fill", "none").attr("stroke", "red").attr("stroke-width", width)
    .attr("d", d3.line().defined(isFlag).x(d => x(d[0])).y(d => y(d[1])));
  p.plot.selectAll(null).data(data.filter(isFlag)).join("circle")
    .attr("cx", d => x(d[0])).attr("cy", d => y(d[1])).attr("r", 5).attr("fill", "red");
}

function shade(p) {
  dayShade.forEach(s => {
    p.plot.append("rect").attr("x", x(s[0])).attr("width", x(s[1]) - x(s[0]))
      .attr("y", p.top).attr("height", p.bottom - p.top)
      .attr("fill", "yellow").attr("fill-opacity", 0.14);
  });
}

function axes(p, ticks, label, labelX, rightColor) {
  const la = p.g.append("g").attr("transform", "translate(" + X0 + ",0)")
    .call(d3.axisLeft(p.y).tickValues(ticks).tickSizeInner(-28).tickSizeOuter(0).tickPadding(28).tickFormat(d => String(d)));
  la.select(".domain").attr("stroke", BLUE_AX).attr("stroke-width", 3);
  la.selectAll(".tick line").attr("stroke", BLUE_AX).attr("stroke-width", 3);
  la.selectAll(".tick text").attr("fill", BLUE_AX).attr("font-size", 42).attr("font-family", FONT);

  const ba = p.g.append("g").attr("transform", "translate(0," + p.bottom + ")")
    .call(d3.axisBottom(x).tickValues(xTicks).tickSizeInner(-28).tickSizeOuter(0).tickPadding(35));
  ba.select(".domain").attr("stroke", DARK).attr("stroke-width", 3);
  ba.selectAll(".tick line").attr("stroke", DARK).attr("stroke-width", 3);
  ba.selectAll(".tick text").attr("fill", DARK).attr("font-size", 42).attr("font-family", FONT);

  p.g.append("text").attr("x", (X0 + X1) / 2).attr("y", p.bottom + 130)
    .attr("text-anchor", "middle").attr("font-size", 44).attr("font-family", FONT).attr("fill", DARK)
    .text("UTC hours on 20240624");

  const t = p.g.append("text")
    .attr("transform", "translate(" + labelX + "," + (p.top + p.bottom) / 2 + ") rotate(-90)")
    .attr("text-anchor", "middle").attr("font-size", 44).attr("font-family", FONT).attr("fill", BLUE_AX);
  t.append("tspan").text(label[0]);
  if (label[1]) t.append("tspan").attr("dy", -18).attr("font-size", 30).text(label[1]);

  if (rightColor) {
    p.g.append("line").attr("x1", X1).attr("x2", X1).attr("y1", p.top).attr("y2", p.bottom)
      .attr("stroke", rightColor).attr("stroke-width", 3);
  }
}

function legend(p, items, lx0, lx1, tx, ys) {
  items.forEach((it, i) => {
    p.g.append("line").attr("x1", lx0).attr("x2", lx1).attr("y1", ys[i]).attr("y2", ys[i])
      .attr("stroke", it.color).attr("stroke-width", it.width).attr("stroke-dasharray", it.dash || null);
    p.g.append("text").attr("x", tx).attr("y", ys[i]).attr("dy", "0.36em")
      .attr("font-size", 37).attr("font-family", FONT).attr("fill", "#000").text(it.name);
  });
}

// panel 1
const p1 = makePanel("c1", 298, 1200, [-33.3, 476.3]);
line(p1, p1.y, skyradSwDown, "blue", 7);
line(p1, p1.y, half(sebsSwDown), "plum", 3);
line(p1, p1.y, gndradSwUp, "orange", 7);
line(p1, p1.y, half(sebsSwUp), "brown", 4);
flagged(p1, p1.y, half(sebsSwDown), d => d[1] < 0, 3);
flagged(p1, p1.y, half(sebsSwUp), d => d[1] < 0, 5);
shade(p1);
axes(p1, [0, 100, 200, 300, 400], ["BB Shortwave Flux, W/m", "2"], 237, BLUE_AX);
legend(p1, [
  { name: "SKYRAD SW Down", color: "blue", width: 7 },
  { name: "SEBS SW Down", color: "plum", width: 3 },
  { name: "GNDRAD SW Up", color: "orange", width: 7 },
  { name: "SEBS SW Up", color: "brown", width: 4 }
], 2288, 2477, 2497, [368, 422, 477, 532]);

// panel 2
const p2 = makePanel("c2", 1421, 2323, [271.2, 389.7]);
line(p2, p2.y, skyradLwDownP1, "blue", 8);
line(p2, p2.y, skyradLwDownP2, "lightblue", 4);
line(p2, p2.y, half(sebsLwDown), "salmon", 3);
line(p2, p2.y, gndradLwUp, "orange", 7);
line(p2, p2.y, half(sebsLwUp), "brown", 4);
shade(p2);
axes(p2, [280, 300, 320, 340, 360, 380], ["BB Longwave Flux, W/m", "2"], 237, BLUE_AX);
legend(p2, [
  { name: "SKYRAD LW Down (P1)", color: "blue", width: 7 },
  { name: "SKYRAD LW Down (P2)", color: "lightblue", width: 5 },
  { name: "SEBS LW Down", color: "salmon", width: 3 },
  { name: "GNDRAD LW Up", color: "orange", width: 7 },
  { name: "SEBS LW Up", color: "brown", width: 4 }
], 2243, 2432, 2454, [1993, 2047, 2101, 2155, 2209]);

// panel 3
const p3 = makePanel("c3", 2551, 3453, [24.824, 27.158]);
const yR = d3.scaleLinear().domain([24.882, 25.942]).range([3453, 2551]);
line(p3, p3.y, half(soilMoisture1), "gray", 3.5);
line(p3, p3.y, half(soilMoisture2), "gray", 3.5, "62,38");
line(p3, p3.y, half(soilMoisture3), "green", 3.5, "50,20,8,20");
line(p3, yR, half(soilMoistureAvg), "orange", 7);
shade(p3);
axes(p3, [25, 25.5, 26, 26.5, 27], ["Soil Moisture, %"], 224, null);
const ra = p3.g.append("g").attr("transform", "translate(" + X1 + ",0)")
  .call(d3.axisRight(yR).tickValues([25, 25.2, 25.4, 25.6, 25.8]).tickSizeInner(-28).tickSizeOuter(0).tickPadding(22).tickFormat(d => String(d)));
ra.select(".domain").attr("stroke", ORANGE_AX).attr("stroke-width", 3);
ra.selectAll(".tick line").attr("stroke", ORANGE_AX).attr("stroke-width", 3);
ra.selectAll(".tick text").attr("fill", ORANGE_AX).attr("font-size", 42).attr("font-family", FONT);
p3.g.append("text")
  .attr("transform", "translate(3193," + (2551 + 3453) / 2 + ") rotate(-90)")
  .attr("text-anchor", "middle").attr("font-size", 44).attr("font-family", FONT).attr("fill", ORANGE_AX)
  .text("Average Soil Moisture, %");
legend(p3, [
  { name: "SEBS Soil Moisture 1", color: "gray", width: 3.5 },
  { name: "SEBS soil moisture 2", color: "gray", width: 3.5, dash: "62,38" },
  { name: "SEBS soil moisture 3", color: "green", width: 3.5, dash: "50,20,8,20" },
  { name: "SEBS average soil moisture", color: "orange", width: 7 }
], 445, 635, 655, [3216, 3271, 3327, 3382]);

// panel 4
const p4 = makePanel("c4", 3676, 4577, [-376.8, 606.5]);
line(p4, p4.y, half(ecorSensible), "pink", 3.5);
line(p4, p4.y, half(ecorLatent), "orange", 3.5);
line(p4, p4.y, half(ecorSum), "brown", 3.5);
line(p4, p4.y, half(sebsSoilHeat), "blue", 3.5);
line(p4, p4.y, skyGndNetRad, "gray", 8);
line(p4, p4.y, half(sebsNetRad), "black", 5);
line(p4, p4.y, half(sebsEnergyBal), "green", 3.5);
line(p4, p4.y, half(sebsNetRadSoil), "plum", 3.5, "62,38");
flagged(p4, p4.y, half(ecorLatent), d => ecorLatFlag.includes(d[0]), 3);
flagged(p4, p4.y, half(ecorSum), d => ecorSumFlag.includes(d[0]), 3);
flagged(p4, p4.y, half(ecorSensible), d => ecorSensFlag.includes(d[0]), 3);
shade(p4);
axes(p4, [-200, 0, 200, 400, 600], ["Flux, W/m", "-2"], 223, BLUE_AX);
legend(p4, [
  { name: "ECOR sensible heat flux", color: "pink", width: 3.5 },
  { name: "ECOR latent heat flux", color: "orange", width: 3.5 },
  { name: "ECOR latent + sensible heat flux", color: "brown", width: 3.5 },
  { name: "SEBS soil heat flux", color: "blue", width: 3.5 },
  { name: "SKY/GNDRAD net radiation", color: "gray", width: 8 },
  { name: "SEBS net radiation", color: "black", width: 3.5 },
  { name: "SEBS \"energy balance\"", color: "green", width: 3.5 },
  { name: "SEBS net rad + soil heat", color: "plum", width: 3.5, dash: "62,38" }
], 1926, 2116, 2137, [3726, 3780, 3834, 3889, 3943, 3998, 4052, 4106]);
</script>
</body>
</html>
